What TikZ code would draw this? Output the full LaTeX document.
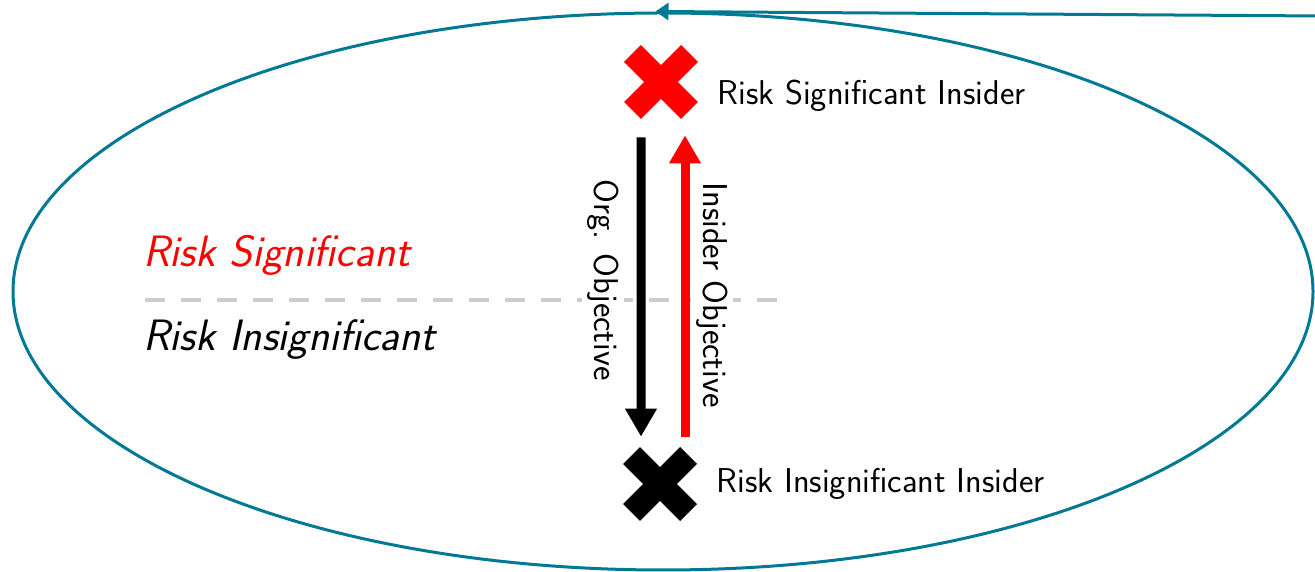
\documentclass[tikz,border=0pt]{standalone}
\usepackage{tikz}
\usetikzlibrary{arrows.meta,shapes.geometric,positioning}

\definecolor{ringteal}{RGB}{0,122,148}
\tikzset{
  xmark/.style={minimum size=1.48cm, inner sep=0pt},
  lbl/.style={font=\sffamily\fontsize{19.6}{23}\selectfont, inner sep=0pt},
  zone/.style={font=\sffamily\itshape\fontsize{25}{30}\selectfont, inner sep=0pt, anchor=west},
  obj/.style={lbl, rotate=-90, fill=white, inner sep=3pt},
  flow/.style={line width=0.18cm, -{Triangle[length=0.56cm,width=0.6cm]}},
}

\begin{document}
\begin{tikzpicture}
\useasboundingbox (0,0) rectangle (26.3,11.44);
\node[ellipse, draw=ringteal, line width=0.06cm, minimum width=26cm, minimum height=11.14cm, inner sep=0pt] (frame) at (13.26,5.61) {};
\coordinate (feed) at (26.4,11.12);
\draw[ringteal, line width=0.06cm, -{Triangle[length=0.26cm,width=0.34cm]}] (feed) -- ([xshift=-0.15cm]frame.north);

\draw[gray!40, line width=0.08cm, dash pattern=on 0.4cm off 0.32cm] (2.9,5.44) -- (15.7,5.44);
\node[zone, red] (hi) at (2.86,6.34) {Risk Significant};
\node[zone] (lo) at (2.86,4.64) {Risk Insignificant};

\node[xmark] (sig) at (13.22,9.8) {};
\node[xmark] (insig) at (13.2,1.76) {};
\foreach \n/\c in {sig/red, insig/black}{
  \draw[\c, line width=0.48cm] ([shift={(-0.57,-0.57)}]\n.center) -- ([shift={(0.57,0.57)}]\n.center);
  \draw[\c, line width=0.48cm] ([shift={(-0.57,0.57)}]\n.center) -- ([shift={(0.57,-0.57)}]\n.center);
}
\node[lbl, right=0.38cm of sig, yshift=-0.28cm] (sigtxt) {Risk Significant Insider};
\node[lbl, right=0.38cm of insig] (insigtxt) {Risk Insignificant Insider};

\node[obj] (org) at (12.06,5.84) {Org. Objective};
\node[obj] (ins) at (14.24,5.54) {Insider Objective};

\draw[flow, black, shorten <=0.36cm, shorten >=0.2cm] ([xshift=-0.4cm]sig.south) -- ([xshift=-0.38cm]insig.north);
\draw[flow, red, shorten <=0.2cm, shorten >=0.32cm] ([xshift=0.5cm]insig.north) -- ([xshift=0.48cm]sig.south);
\end{tikzpicture}
\end{document}
